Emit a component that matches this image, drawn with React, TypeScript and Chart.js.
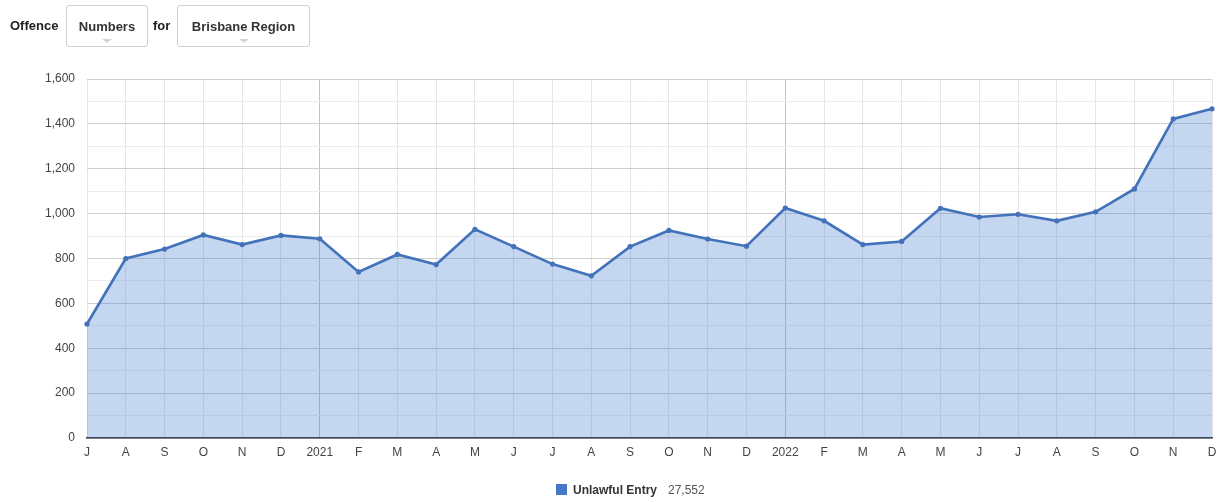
import React, { useEffect, useRef } from "react";
import { Chart, registerables } from "chart.js";

Chart.register(...registerables);

const monthLabels = ["J","A","S","O","N","D","2021","F","M","A","M","J","J","A","S","O","N","D","2022","F","M","A","M","J","J","A","S","O","N","D"];
const unlawfulEntry = [508,800,842,905,862,903,888,740,818,773,930,853,775,723,853,925,887,855,1025,968,862,876,1024,985,997,968,1008,1110,1422,1467];
const yTicks = [0,200,400,600,800,1000,1200,1400,1600];
const seriesName = "Unlawful Entry";
const yearIndexes = [6, 18];

const LINE = "rgb(66,114,185)";
const FONT = "Arial, 'Liberation Sans', sans-serif";

export default function App() {
  const ref = useRef<HTMLCanvasElement>(null);
  useEffect(() => {
    const c = new Chart(ref.current!, {
      type: "line",
      data: {
        labels: monthLabels,
        datasets: [{
          label: seriesName,
          data: unlawfulEntry,
          borderColor: LINE,
          backgroundColor: "rgba(62,118,205,0.3)",
          fill: "origin",
          borderWidth: 2.6,
          pointRadius: 2.6,
          pointBackgroundColor: LINE,
          pointBorderColor: LINE,
          pointBorderWidth: 0,
          tension: 0,
        }],
      },
      options: {
        animation: false,
        responsive: false,
        maintainAspectRatio: false,
        layout: { padding: { left: 0, top: 79, right: 16, bottom: 0 } },
        plugins: { legend: { display: false }, tooltip: { enabled: false } },
        scales: {
          x: {
            offset: false,
            afterFit: (s: any) => { s.height = 64; },
            grid: {
              drawTicks: false,
              color: (ctx: any) => (yearIndexes.includes(ctx.index) ? "#c4c4c4" : "#e6e6e6"),
              lineWidth: 1,
            },
            border: { color: "#333", width: 1.5 },
            ticks: {
              padding: 7,
              color: "#444",
              font: { family: FONT, size: 12 },
              maxRotation: 0,
              autoSkip: false,
            },
          },
          y: {
            min: 0,
            max: 1600,
            afterFit: (s: any) => { s.width = 87; },
            grid: {
              drawTicks: false,
              color: (ctx: any) => {
                const v = ctx.tick ? ctx.tick.value : 0;
                return yTicks.includes(v) ? "#cfcfcf" : "#ececec";
              },
              lineWidth: 1,
            },
            border: { display: false },
            ticks: {
              stepSize: 100,
              padding: 12,
              color: "#444",
              font: { family: FONT, size: 12 },
              callback: (v: any) => (yTicks.includes(Number(v)) ? Number(v).toLocaleString("en-US") : ""),
            },
          },
        },
      },
    });
    return () => c.destroy();
  }, []);

  const total = unlawfulEntry.reduce((a, b) => a + b, 0).toLocaleString("en-US");

  const box = (left: number, width: number, text: string) => (
    <div style={{ position: "absolute", left, top: 5, width, height: 42, border: "1px solid #d0d0d0", borderRadius: 3, boxSizing: "border-box", background: "#fff" }}>
      <div style={{ position: "absolute", left: 0, right: 0, top: 13, textAlign: "center", font: `bold 13px ${FONT}`, color: "#333" }}>{text}</div>
      <div style={{ position: "absolute", left: "50%", marginLeft: -5, top: 33, width: 0, height: 0, borderLeft: "5px solid transparent", borderRight: "5px solid transparent", borderTop: "4px solid #d4d4d4" }} />
    </div>
  );

  return (
    <div style={{ position: "fixed", left: 0, top: 0, width: 1228, height: 502, background: "#fff", overflow: "hidden" }}>
      <canvas ref={ref} width={1228} height={502} style={{ position: "absolute", left: 0, top: 0, width: 1228, height: 502 }} />
      <div style={{ position: "absolute", left: 10, top: 18, font: `bold 13px ${FONT}`, color: "#222" }}>Offence</div>
      {box(66, 82, "Numbers")}
      <div style={{ position: "absolute", left: 153, top: 18, font: `bold 13px ${FONT}`, color: "#222" }}>for</div>
      {box(177, 133, "Brisbane Region")}
      <div style={{ position: "absolute", left: 556, top: 484, width: 11, height: 11, background: "#4577c9" }} />
      <div style={{ position: "absolute", left: 573, top: 483, font: `bold 12px ${FONT}`, color: "#333", whiteSpace: "nowrap" }}>{seriesName}</div>
      <div style={{ position: "absolute", left: 668, top: 483, font: `12px ${FONT}`, color: "#555", whiteSpace: "nowrap" }}>{total}</div>
    </div>
  );
}
